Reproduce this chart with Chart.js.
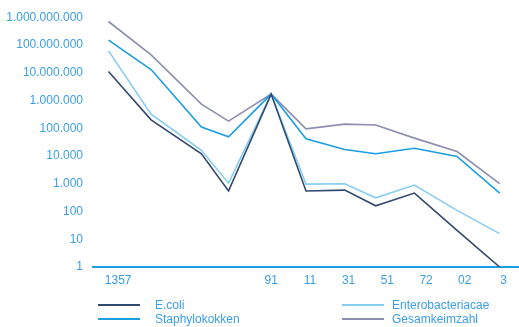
<!DOCTYPE html>
<html lang="de">
<head>
<meta charset="utf-8">
<script src="https://cdn.jsdelivr.net/npm/chart.js@4/dist/chart.umd.min.js"></script>
<style>
    html, body { margin: 0; padding: 0; background: #fff; }
    #wrap { position: relative; width: 519px; height: 327px; }
    #legend {
        position: absolute; left: 0; top: 298px; width: 519px;
        font-family: "Liberation Sans", Arial, sans-serif; font-size: 12px; color: #3a9ee6;
    }
    .item { position: absolute; height: 14px; line-height: 14px; white-space: nowrap; }
    .item .swatch { position: absolute; top: 6px; width: 42px; height: 2px; }
    .item .text { position: absolute; }
</style>
</head>
<body>
<div id="wrap">
    <canvas id="keimChart" width="519" height="327"></canvas>
    <div id="legend"></div>
</div>
<script>
// Messzeitpunkte (irregular spacing) and x-axis tick labels
const messpunkte = [-0.2, 0.9, 2.2, 2.9, 4, 4.9, 5.9, 6.7, 7.7, 8.8, 9.9];
const tickPositionen = [0.05, 4, 5, 6, 7, 8, 9, 10];
const tickLabels = ['1357', '91', '11', '31', '51', '72', '02', '3'];
const yTicks = [1, 10, 100, 1e3, 1e4, 1e5, 1e6, 1e7, 1e8, 1e9];

// Keimzahlen per series
const eColi = [1.1e7, 2e5, 1.2e4, 550, 1.7e6, 550, 590, 160, 460, 21, 1];
const staphylokokken = [1.5e8, 1.3e7, 1.1e5, 4.9e4, 1.7e6, 4.2e4, 1.7e4, 1.2e4, 1.9e4, 9600, 460];
const enterobacteriacae = [6.1e7, 3.2e5, 1.6e4, 1050, 1.7e6, 970, 1000, 310, 900, 110, 16];
const gesamtkeimzahl = [7e8, 4.4e7, 7.4e5, 1.8e5, 1.7e6, 9.5e4, 1.4e5, 1.3e5, 4.4e4, 1.45e4, 1000];

const toPoints = (values) => values.map((v, i) => ({ x: messpunkte[i], y: v }));
const formatDe = (v) => String(Math.round(v)).replace(/\B(?=(\d{3})+(?!\d))/g, '.');

const series = [
    { label: 'E.coli', data: eColi, color: '#34496f' },
    { label: 'Staphylokokken', data: staphylokokken, color: '#1d9de2' },
    { label: 'Enterobacteriacae', data: enterobacteriacae, color: '#86cdf1' },
    { label: 'Gesamkeimzahl', data: gesamtkeimzahl, color: '#8b8fae' }
];

const textBlue = '#3a9ee6';
const font = { family: '"Liberation Sans", Arial, sans-serif', size: 12 };

new Chart(document.getElementById('keimChart'), {
    type: 'line',
    data: {
        datasets: series.map(s => ({
            label: s.label,
            data: toPoints(s.data),
            borderColor: s.color,
            backgroundColor: s.color,
            borderWidth: 1.6,
            pointRadius: 0,
            tension: 0
        }))
    },
    options: {
        responsive: false,
        animation: false,
        layout: { padding: { top: 14, right: 0, bottom: 40, left: 0 } },
        plugins: { legend: { display: false }, tooltip: { enabled: false } },
        scales: {
            x: {
                type: 'linear',
                min: -0.6,
                max: 10.4,
                grid: { display: false, drawTicks: false },
                border: { display: true, color: '#1d9de2', width: 2 },
                afterBuildTicks: (scale) => { scale.ticks = tickPositionen.map(v => ({ value: v })); },
                afterFit: (scale) => { scale.height = 20; },
                ticks: {
                    autoSkip: false,
                    maxRotation: 0,
                    padding: 6,
                    color: textBlue,
                    font: font,
                    callback: (value, index) => tickLabels[index]
                }
            },
            y: {
                type: 'logarithmic',
                min: 1,
                max: 1e9,
                grid: { display: false, drawTicks: false },
                border: { display: false },
                afterBuildTicks: (scale) => { scale.ticks = yTicks.map(v => ({ value: v })); },
                afterFit: (scale) => { scale.width = 93; },
                ticks: {
                    autoSkip: false,
                    padding: 10,
                    color: textBlue,
                    font: font,
                    callback: (value) => formatDe(value)
                }
            }
        }
    }
});

// two-column legend below the plot
const legendSlots = [
    { left: 98, top: 0, textLeft: 57 }, { left: 98, top: 14, textLeft: 57 },
    { left: 342, top: 0, textLeft: 50 }, { left: 342, top: 14, textLeft: 50 }
];
const legend = document.getElementById('legend');
series.forEach((s, i) => {
    const slot = legendSlots[i];
    const item = document.createElement('div');
    item.className = 'item';
    item.style.left = slot.left + 'px';
    item.style.top = slot.top + 'px';
    item.innerHTML = '<span class="swatch" style="left:0;background:' + s.color + '"></span>' +
        '<span class="text" style="left:' + slot.textLeft + 'px">' + s.label + '</span>';
    legend.appendChild(item);
});
</script>
</body>
</html>
